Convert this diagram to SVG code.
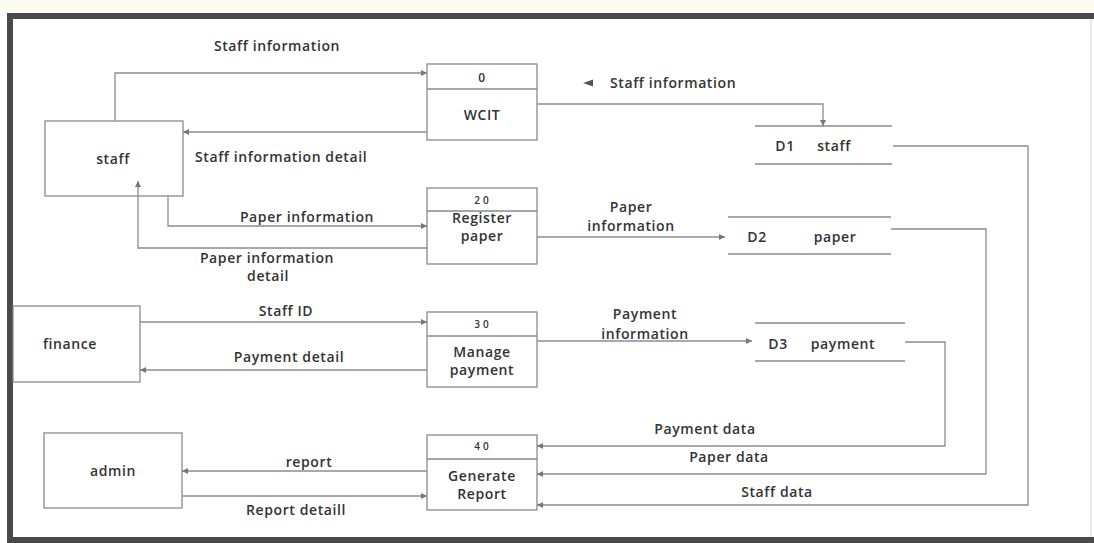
<svg xmlns="http://www.w3.org/2000/svg" width="1094" height="543" viewBox="0 0 1094 543">
  <defs>
    <marker id="arrow" viewBox="0 0 10 10" refX="10" refY="5" markerWidth="7" markerHeight="6" markerUnits="userSpaceOnUse" orient="auto">
      <path d="M0,0 L10,5 L0,10 z" fill="#777"/>
    </marker>
    <style>
      text { font-family: "Open Sans", "Liberation Sans", sans-serif; font-size: 14px; font-weight: 600; fill: #333333; letter-spacing: 0.6px; }
      .mid { text-anchor: middle; }
      .num { font-size: 10px; letter-spacing: 3px; }
      .box { fill: #ffffff; stroke: #8a8a8a; stroke-width: 1.3; }
      .div { stroke: #8a8a8a; stroke-width: 1.3; }
      .store { stroke: #8a8a8a; stroke-width: 1.3; }
      .flow { fill: none; stroke: #8c8c8c; stroke-width: 1.3; marker-end: url(#arrow); }
    </style>
  </defs>

  <!-- page and frame -->
  <rect x="0" y="0" width="1094" height="543" fill="#ffffff"/>
  <rect x="0" y="0" width="1094" height="12" fill="#fcfbf2"/>
  <rect x="7" y="13" width="1087" height="6" fill="#4a4a4a"/>
  <rect x="7" y="13" width="6" height="530" fill="#4a4a4a"/>
  <rect x="7" y="537" width="1087" height="6" fill="#4a4a4a"/>
  <line x1="1091" y1="19" x2="1091" y2="537" stroke="#d4d4d4" stroke-width="1"/>

  <!-- external entities -->
  <g id="staff">
    <rect class="box" x="45" y="121" width="138" height="75"/>
    <text class="mid" x="113" y="164">staff</text>
  </g>
  <g id="finance">
    <rect class="box" x="13" y="306" width="127" height="76"/>
    <text class="mid" x="70" y="349">finance</text>
  </g>
  <g id="admin">
    <rect class="box" x="44" y="433" width="138" height="75"/>
    <text class="mid" x="113" y="476">admin</text>
  </g>

  <!-- processes -->
  <g id="p0">
    <rect class="box" x="427" y="64" width="110" height="76"/>
    <line class="div" x1="427" y1="89" x2="537" y2="89"/>
    <text class="mid" x="482" y="82" style="font-size:12px">0</text>
    <text class="mid" x="482" y="120">WCIT</text>
  </g>
  <g id="p20">
    <rect class="box" x="427" y="188" width="110" height="76"/>
    <line class="div" x1="427" y1="211" x2="537" y2="211"/>
    <text class="mid num" x="483" y="204">20</text>
    <text class="mid" x="482" y="223">Register</text>
    <text class="mid" x="482" y="241">paper</text>
  </g>
  <g id="p30">
    <rect class="box" x="427" y="312" width="110" height="75"/>
    <line class="div" x1="427" y1="336" x2="537" y2="336"/>
    <text class="mid num" x="483" y="328">30</text>
    <text class="mid" x="482" y="357">Manage</text>
    <text class="mid" x="482" y="375">payment</text>
  </g>
  <g id="p40">
    <rect class="box" x="427" y="435" width="110" height="75"/>
    <line class="div" x1="427" y1="459" x2="537" y2="459"/>
    <text class="mid num" x="483" y="450">40</text>
    <text class="mid" x="482" y="481">Generate</text>
    <text class="mid" x="482" y="499">Report</text>
  </g>

  <!-- data stores -->
  <g id="d1">
    <line class="store" x1="755" y1="126" x2="892" y2="126"/>
    <line class="store" x1="755" y1="164" x2="892" y2="164"/>
    <text class="mid" x="785" y="151">D1</text>
    <text class="mid" x="834" y="151">staff</text>
  </g>
  <g id="d2">
    <line class="store" x1="728" y1="217" x2="891" y2="217"/>
    <line class="store" x1="728" y1="254" x2="891" y2="254"/>
    <text class="mid" x="757" y="242">D2</text>
    <text class="mid" x="835" y="242">paper</text>
  </g>
  <g id="d3">
    <line class="store" x1="755" y1="323" x2="905" y2="323"/>
    <line class="store" x1="755" y1="361" x2="905" y2="361"/>
    <text class="mid" x="778" y="349">D3</text>
    <text class="mid" x="843" y="349">payment</text>
  </g>

  <!-- data flows -->
  <g id="connectors">
    <path class="flow" d="M115,121 V73 H427"/>
    <path class="flow" d="M427,132 H183"/>
    <path class="flow" d="M537,104 H823 V126"/>
    <path class="flow" d="M168,196 V226 H427"/>
    <path class="flow" d="M427,248 H138 V181"/>
    <path class="flow" d="M537,237 H725"/>
    <path class="flow" d="M140,322 H427"/>
    <path class="flow" d="M427,370 H140"/>
    <path class="flow" d="M537,341 H752"/>
    <path class="flow" d="M427,471 H182"/>
    <path class="flow" d="M182,496 H427"/>
    <path class="flow" d="M905,342 H945 V446 H537"/>
    <path class="flow" d="M891,229 H986 V474 H537"/>
    <path class="flow" d="M893,146 H1028 V505 H537"/>
    <polygon points="583,83 593,79.5 593,86.5" fill="#555"/>
  </g>

  <!-- flow labels -->
  <g id="labels">
    <text class="mid" x="277" y="51">Staff information</text>
    <text x="195" y="162">Staff information detail</text>
    <text x="610" y="88">Staff information</text>
    <text class="mid" x="307" y="222">Paper information</text>
    <text class="mid" x="267" y="263">Paper information</text>
    <text class="mid" x="268" y="281">detail</text>
    <text class="mid" x="631" y="212">Paper</text>
    <text class="mid" x="631" y="231">information</text>
    <text class="mid" x="286" y="316">Staff ID</text>
    <text class="mid" x="289" y="362">Payment detail</text>
    <text class="mid" x="645" y="319">Payment</text>
    <text class="mid" x="645" y="339">information</text>
    <text class="mid" x="309" y="467">report</text>
    <text class="mid" x="296" y="515">Report detaill</text>
    <text class="mid" x="705" y="434">Payment data</text>
    <text class="mid" x="729" y="462">Paper data</text>
    <text class="mid" x="777" y="497">Staff data</text>
  </g>
</svg>
